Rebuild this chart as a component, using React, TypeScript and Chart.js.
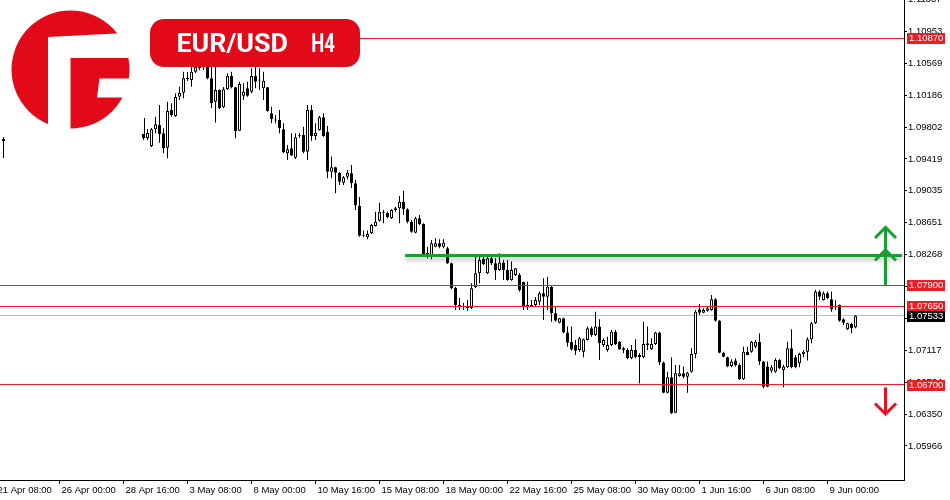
import React, { useEffect, useRef } from "react";
import { Chart, registerables } from "chart.js";

Chart.register(...registerables);

// ---- Instrument / title -------------------------------------------------
const SYMBOL = "EUR/USD";
const TIMEFRAME = "H4";

// ---- H4 candles: bar 0 = 21 Apr 16:00, one bar per 4 hours (weekends skipped).
// Bars 1..35 are hidden behind the logo in the reference.
const OPEN: (number | null)[] = [
  1.09659,
  null, null, null, null, null, null, null, null, null, null, null, null, null, null, null, null, null,
  null, null, null, null, null, null, null, null, null, null, null, null, null, null, null, null, null,
  1.09912, 1.09671, 1.09575, 1.09776, 1.09828, 1.09728, 1.09555, 1.10008, 1.09936, 1.10168,
  1.10216, 1.10381, 1.10369, 1.10469, 1.10513, 1.10585, 1.10529, 1.10389, 1.10108, 1.10248,
  1.10040, 1.10257, 1.10417, 1.10281, 1.09759, 1.10180, 1.10269, 1.10228, 1.10417, 1.10369,
  1.10269, 1.10281, 1.09968, 1.09888, 1.09888, 1.09776, 1.09487, 1.09547, 1.09434, 1.09691,
  1.09707, 1.09507, 1.10008, 1.09695, 1.09767, 1.09920, 1.09747, 1.09266, 1.09318, 1.09254,
  1.09134, 1.09206, 1.09246, 1.09126, 1.08853, 1.08496, 1.08477, 1.08525, 1.08613, 1.08677,
  1.08773, 1.08773, 1.08705, 1.08805, 1.08825, 1.08905, 1.08813, 1.08665, 1.08532, 1.08705,
  1.08637, 1.08292, 1.08244, 1.08364, 1.08404, 1.08364, 1.08344, 1.08164, 1.07867, 1.07662,
  1.07638, 1.07650, 1.07626, 1.07879, 1.08044, 1.08216, 1.08044, 1.08224, 1.08164, 1.08083,
  1.08172, 1.08083, 1.07963, 1.08023, 1.08023, 1.07939, 1.07650, 1.07662, 1.07662, 1.07702,
  1.07803, 1.07762, 1.07883, 1.07562, 1.07450, 1.07502, 1.07330, 1.07221, 1.07181, 1.07121,
  1.07101, 1.07241, 1.07382, 1.07301, 1.07402, 1.07181, 1.07121, 1.07181, 1.07341, 1.07221,
  1.07141, 1.07121, 1.07021, 1.07121, 1.07061, 1.07033, 1.07201, 1.07129, 1.07193, 1.07330,
  1.06969, 1.06608, 1.06793, 1.06367, 1.06809, 1.06841, 1.06800, 1.06860, 1.07073, 1.07611,
  1.07570, 1.07594, 1.07602, 1.07731, 1.07474, 1.07089, 1.07033, 1.06929, 1.06993, 1.06941,
  1.06768, 1.07101, 1.07101, 1.07161, 1.07221, 1.06981, 1.06921, 1.06872, 1.06860, 1.07001,
  1.06881, 1.06913, 1.07141, 1.07033, 1.06961, 1.07073, 1.07101, 1.07249, 1.07442, 1.07823,
  1.07723, 1.07803, 1.07731, 1.07638, 1.07662, 1.07490, 1.07370, 1.07434, 1.07394,
];

const HIGH: (number | null)[] = [
  1.09683,
  null, null, null, null, null, null, null, null, null, null, null, null, null, null, null, null, null,
  null, null, null, null, null, null, null, null, null, null, null, null, null, null, null, null, null,
  1.09928, 1.09779, 1.09791, 1.09928, 1.10068, 1.09787, 1.10108, 1.10088, 1.10208, 1.10288,
  1.10469, 1.10465, 1.10549, 1.10609, 1.10669, 1.10730, 1.10609, 1.10529, 1.10529, 1.10257,
  1.10284, 1.10449, 1.10469, 1.10288, 1.10348, 1.10329, 1.10348, 1.10509, 1.10529, 1.10509,
  1.10469, 1.10284, 1.10048, 1.09948, 1.10008, 1.09848, 1.09587, 1.09728, 1.09728, 1.09728,
  1.09807, 1.10068, 1.10068, 1.09848, 1.09936, 1.09968, 1.09816, 1.09447, 1.09326, 1.09262,
  1.09214, 1.09286, 1.09346, 1.09166, 1.08961, 1.08557, 1.08557, 1.08637, 1.08785, 1.08893,
  1.08805, 1.08785, 1.08813, 1.08845, 1.08973, 1.09037, 1.08825, 1.08685, 1.08725, 1.08745,
  1.08645, 1.08364, 1.08444, 1.08465, 1.08452, 1.08452, 1.08364, 1.08172, 1.07883, 1.07747,
  1.07687, 1.07723, 1.07923, 1.08264, 1.08264, 1.08276, 1.08264, 1.08276, 1.08224, 1.08284,
  1.08204, 1.08204, 1.08184, 1.08107, 1.08044, 1.07943, 1.07943, 1.07723, 1.07759, 1.07823,
  1.07983, 1.08003, 1.07891, 1.07642, 1.07506, 1.07510, 1.07402, 1.07402, 1.07241, 1.07281,
  1.07259, 1.07402, 1.07402, 1.07582, 1.07490, 1.07261, 1.07281, 1.07362, 1.07362, 1.07229,
  1.07161, 1.07141, 1.07181, 1.07249, 1.07081, 1.07462, 1.07402, 1.07261, 1.07341, 1.07341,
  1.06981, 1.06860, 1.07033, 1.06941, 1.06941, 1.06921, 1.06860, 1.07141, 1.07602, 1.07675,
  1.07622, 1.07642, 1.07783, 1.07743, 1.07482, 1.07101, 1.07041, 1.07009, 1.07021, 1.06961,
  1.07161, 1.07161, 1.07229, 1.07241, 1.07322, 1.06989, 1.06981, 1.06941, 1.07021, 1.07009,
  1.06941, 1.07221, 1.07370, 1.07061, 1.07089, 1.07121, 1.07274, 1.07462, 1.07843, 1.07843,
  1.07823, 1.07823, 1.07823, 1.07723, 1.07668, 1.07502, 1.07450, 1.07450, 1.07542,
];

const LOW: (number | null)[] = [
  1.09430,
  null, null, null, null, null, null, null, null, null, null, null, null, null, null, null, null, null,
  null, null, null, null, null, null, null, null, null, null, null, null, null, null, null, null, null,
  1.09647, 1.09647, 1.09563, 1.09728, 1.09615, 1.09487, 1.09427, 1.09928, 1.09924, 1.10128,
  1.10148, 1.10357, 1.10288, 1.10453, 1.10489, 1.10489, 1.10377, 1.10028, 1.09856, 1.10016,
  1.10028, 1.10248, 1.10269, 1.09667, 1.09755, 1.10128, 1.10168, 1.10208, 1.10269, 1.10248,
  1.10128, 1.09987, 1.09848, 1.09848, 1.09728, 1.09487, 1.09406, 1.09455, 1.09418, 1.09675,
  1.09487, 1.09406, 1.09639, 1.09647, 1.09759, 1.09687, 1.09186, 1.09186, 1.09006, 1.09106,
  1.09106, 1.09174, 1.09070, 1.08805, 1.08484, 1.08477, 1.08453, 1.08517, 1.08605, 1.08665,
  1.08645, 1.08705, 1.08697, 1.08785, 1.08645, 1.08745, 1.08645, 1.08532, 1.08525, 1.08625,
  1.08264, 1.08224, 1.08212, 1.08356, 1.08344, 1.08344, 1.08156, 1.07851, 1.07602, 1.07602,
  1.07602, 1.07590, 1.07614, 1.07867, 1.07923, 1.08144, 1.08035, 1.08144, 1.07963, 1.08075,
  1.07963, 1.07955, 1.07955, 1.08011, 1.07823, 1.07602, 1.07602, 1.07642, 1.07650, 1.07662,
  1.07482, 1.07602, 1.07462, 1.07462, 1.07442, 1.07322, 1.07161, 1.07115, 1.07061, 1.07101,
  1.07033, 1.07233, 1.07281, 1.07289, 1.07001, 1.07161, 1.07101, 1.07169, 1.07181, 1.07121,
  1.07081, 1.07009, 1.07009, 1.07021, 1.06721, 1.07021, 1.07121, 1.07121, 1.07181, 1.06941,
  1.06600, 1.06600, 1.06351, 1.06360, 1.06800, 1.06781, 1.06608, 1.06848, 1.07021, 1.07542,
  1.07562, 1.07582, 1.07594, 1.07462, 1.07081, 1.07033, 1.06913, 1.06913, 1.06921, 1.06760,
  1.06760, 1.07057, 1.07089, 1.07141, 1.06941, 1.06660, 1.06672, 1.06848, 1.06848, 1.06889,
  1.06672, 1.06905, 1.06901, 1.06901, 1.06913, 1.07033, 1.06993, 1.07202, 1.07434, 1.07723,
  1.07715, 1.07731, 1.07582, 1.07602, 1.07462, 1.07422, 1.07362, 1.07322, 1.07382,
];

const CLOSE: (number | null)[] = [
  1.09635,
  null, null, null, null, null, null, null, null, null, null, null, null, null, null, null, null, null,
  null, null, null, null, null, null, null, null, null, null, null, null, null, null, null, null, null,
  1.09671, 1.09731, 1.09776, 1.09836, 1.09719, 1.09547, 1.09996, 1.09948, 1.10164, 1.10216,
  1.10389, 1.10393, 1.10469, 1.10529, 1.10585, 1.10537, 1.10389, 1.10088, 1.10248, 1.10028,
  1.10257, 1.10417, 1.10281, 1.09755, 1.10321, 1.10228, 1.10180, 1.10417, 1.10348, 1.10363,
  1.10360, 1.09996, 1.09896, 1.09880, 1.09787, 1.09503, 1.09535, 1.09459, 1.09679, 1.09695,
  1.09507, 1.10008, 1.09695, 1.09735, 1.09920, 1.09695, 1.09266, 1.09318, 1.09254, 1.09146,
  1.09198, 1.09254, 1.09126, 1.08859, 1.08496, 1.08494, 1.08517, 1.08625, 1.08665, 1.08785,
  1.08775, 1.08717, 1.08805, 1.08825, 1.08905, 1.08813, 1.08665, 1.08544, 1.08705, 1.08637,
  1.08276, 1.08244, 1.08404, 1.08404, 1.08364, 1.08412, 1.08164, 1.07863, 1.07662, 1.07638,
  1.07650, 1.07626, 1.07863, 1.08044, 1.08204, 1.08156, 1.08224, 1.08164, 1.08083, 1.08172,
  1.08083, 1.07963, 1.08083, 1.08104, 1.07843, 1.07642, 1.07662, 1.07650, 1.07723, 1.07803,
  1.07762, 1.07883, 1.07562, 1.07474, 1.07502, 1.07330, 1.07209, 1.07127, 1.07113, 1.07261,
  1.07249, 1.07382, 1.07301, 1.07402, 1.07201, 1.07241, 1.07181, 1.07341, 1.07190, 1.07129,
  1.07121, 1.07021, 1.07121, 1.07033, 1.07033, 1.07193, 1.07181, 1.07193, 1.07330, 1.06969,
  1.06608, 1.06793, 1.06360, 1.06841, 1.06841, 1.06800, 1.06848, 1.07073, 1.07582, 1.07570,
  1.07602, 1.07622, 1.07731, 1.07474, 1.07089, 1.07041, 1.06921, 1.06981, 1.06941, 1.06768,
  1.07101, 1.07061, 1.07221, 1.07221, 1.06981, 1.06680, 1.06680, 1.06913, 1.07001, 1.06901,
  1.06921, 1.07141, 1.06913, 1.06913, 1.07073, 1.07101, 1.07249, 1.07442, 1.07823, 1.07762,
  1.07803, 1.07743, 1.07611, 1.07650, 1.07474, 1.07450, 1.07442, 1.07382, 1.07533,
];

// ---- Axes --------------------------------------------------------------
const TIME_TICK_BARS = [-2, 14, 30, 46, 62, 78, 94, 110, 126, 142, 158, 174, 190, 206];
const TIME_TICK_LABELS = [
  "21 Apr 08:00", "26 Apr 00:00", "28 Apr 16:00", "3 May 08:00", "8 May 00:00",
  "10 May 16:00", "15 May 08:00", "18 May 00:00", "22 May 16:00", "25 May 08:00",
  "30 May 00:00", "1 Jun 16:00", "6 Jun 08:00", "9 Jun 00:00",
];
const PRICE_TICKS = [
  1.05966, 1.0635, 1.06734, 1.07117, 1.07501, 1.07884, 1.08268, 1.08651,
  1.09035, 1.09419, 1.09802, 1.10186, 1.10569, 1.10953, 1.11337,
];
const PRICE_MIN = 1.05557;
const PRICE_MAX = 1.11331;
const BAR_MIN = -0.875;
const BAR_MAX = 225.125;

// ---- Drawn levels / annotations ---------------------------------------
const RED_LEVELS = [1.1087, 1.079, 1.0765, 1.067];
const BID_PRICE = 1.07533;
const GREEN_LEVEL = 1.08257;
const GREEN_FROM_BAR = 100.4;
const ARROW_BAR = 220.5;
const UP_ARROWS = [
  { from: 1.08288, to: 1.08595 },
  { from: 1.07891, to: 1.08324 },
];
const DOWN_ARROWS = [{ from: 1.0667, to: 1.06351 }];

const BRAND_RED = "#e20a19";
const LEVEL_RED = "#ee1c25";
const GREEN = "#1f9a35";
const AXIS_FONT = '"Liberation Sans", Arial, sans-serif';
const AXIS_SIZE = 9.5;

function drawArrow(ctx: CanvasRenderingContext2D, x: number, yFrom: number, yTo: number, color: string) {
  const dir = yTo < yFrom ? -1 : 1;
  ctx.save();
  ctx.strokeStyle = color;
  ctx.lineWidth = 3;
  ctx.lineCap = "butt";
  ctx.lineJoin = "miter";
  ctx.beginPath();
  ctx.moveTo(x, yFrom);
  ctx.lineTo(x, yTo - dir * 1.5);
  ctx.stroke();
  ctx.beginPath();
  ctx.moveTo(x - 10.5, yTo - dir * 10.5);
  ctx.lineTo(x, yTo);
  ctx.lineTo(x + 10.5, yTo - dir * 10.5);
  ctx.stroke();
  ctx.restore();
}

function fitText(ctx: CanvasRenderingContext2D, text: string, left: number, right: number, baseline: number) {
  const m = ctx.measureText(text);
  const ink = m.actualBoundingBoxLeft + m.actualBoundingBoxRight;
  const s = (right - left) / ink;
  ctx.save();
  ctx.translate(left, baseline);
  ctx.scale(s, 1);
  ctx.textAlign = "left";
  ctx.textBaseline = "alphabetic";
  ctx.fillText(text, m.actualBoundingBoxLeft, 0);
  ctx.restore();
}

const overlayPlugin = {
  id: "mtOverlay",
  beforeDatasetsDraw(chart: any) {
    const { ctx, chartArea: a, scales } = chart;
    const y = scales.y;
    ctx.save();
    const yb = Math.floor(y.getPixelForValue(BID_PRICE)) + 0.5;
    ctx.strokeStyle = "#c0c0c0";
    ctx.lineWidth = 1;
    ctx.beginPath();
    ctx.moveTo(a.left, yb);
    ctx.lineTo(a.right, yb);
    ctx.stroke();
    ctx.restore();
  },
  afterDatasetsDraw(chart: any) {
    const { ctx, chartArea: a, scales } = chart;
    const x = scales.x;
    const y = scales.y;
    ctx.save();
    ctx.strokeStyle = LEVEL_RED;
    ctx.lineWidth = 1;
    for (const lv of RED_LEVELS) {
      const py = Math.floor(y.getPixelForValue(lv)) + 0.5;
      ctx.beginPath();
      ctx.moveTo(a.left, py);
      ctx.lineTo(a.right, py);
      ctx.stroke();
    }
    // green level with soft shadow
    const gy = y.getPixelForValue(GREEN_LEVEL);
    const gx = x.getPixelForValue(GREEN_FROM_BAR);
    ctx.save();
    ctx.shadowColor = "rgba(0,0,0,0.3)";
    ctx.shadowBlur = 5;
    ctx.shadowOffsetY = 3;
    ctx.strokeStyle = GREEN;
    ctx.lineWidth = 3;
    ctx.beginPath();
    ctx.moveTo(gx, gy);
    ctx.lineTo(a.right - 2, gy);
    ctx.stroke();
    ctx.restore();
    // arrows
    const ax = Math.round(x.getPixelForValue(ARROW_BAR)) - 0.5;
    for (const ar of UP_ARROWS) {
      drawArrow(ctx, ax, y.getPixelForValue(ar.from), y.getPixelForValue(ar.to), "#1aa032");
    }
    for (const ar of DOWN_ARROWS) {
      drawArrow(ctx, ax, y.getPixelForValue(ar.from), y.getPixelForValue(ar.to), "#e8101e");
    }
    ctx.restore();
  },
  afterDraw(chart: any) {
    const { ctx, chartArea: a, scales } = chart;
    const y = scales.y;
    ctx.save();
    // logo background (white image backdrop)
    ctx.fillStyle = "#ffffff";
    ctx.fillRect(0, 0, 144, 134);
    ctx.fillRect(144, 0, 8, 100);
    // logo
    ctx.fillStyle = BRAND_RED;
    ctx.beginPath();
    ctx.arc(70.5, 69.5, 59, 0, Math.PI * 2);
    ctx.fill();
    ctx.fillStyle = "#ffffff";
    ctx.beginPath();
    ctx.moveTo(48, 37);
    ctx.lineTo(116, 33.5);
    ctx.lineTo(140, 33.5);
    ctx.lineTo(140, 58);
    ctx.lineTo(70.5, 58);
    ctx.lineTo(70.5, 140);
    ctx.lineTo(48, 140);
    ctx.closePath();
    ctx.fill();
    ctx.beginPath();
    ctx.moveTo(99.5, 78.5);
    ctx.lineTo(140, 78.5);
    ctx.lineTo(140, 97.5);
    ctx.lineTo(97, 97.5);
    ctx.closePath();
    ctx.fill();
    // title pill
    ctx.fillStyle = BRAND_RED;
    ctx.beginPath();
    ctx.roundRect(150, 19, 210, 48, 14);
    ctx.fill();
    ctx.fillStyle = "#ffffff";
    ctx.font = "bold 26px Roboto, 'Liberation Sans', sans-serif";
    fitText(ctx, SYMBOL, 177.5, 287, 52);
    fitText(ctx, TIMEFRAME, 312, 335, 52);
    // price boxes on the axis
    ctx.font = `${AXIS_SIZE}px ${AXIS_FONT}`;
    ctx.textBaseline = "middle";
    ctx.textAlign = "left";
    const boxes = [
      ...RED_LEVELS.map((v) => ({ v, bg: LEVEL_RED })),
      { v: BID_PRICE, bg: "#000000" },
    ];
    for (const b of boxes) {
      const py = Math.round(y.getPixelForValue(b.v));
      ctx.fillStyle = b.bg;
      ctx.fillRect(a.right + 3, py - 5, 38, 11);
      ctx.fillStyle = "#ffffff";
      ctx.fillText(b.v.toFixed(5), a.right + 5, py + 0.5);
    }
    ctx.restore();
  },
};

export default function App() {
  const ref = useRef<HTMLCanvasElement>(null);

  useEffect(() => {
    const canvas = ref.current;
    if (!canvas) return;
    const bars = OPEN.map((o, i) => ({ i, o, h: HIGH[i], l: LOW[i], c: CLOSE[i] })).filter(
      (b) => b.o != null && b.h != null && b.l != null && b.c != null
    ) as { i: number; o: number; h: number; l: number; c: number }[];

    const chart = new Chart(canvas, {
      type: "bar",
      data: {
        datasets: [
          {
            label: "wicks",
            data: bars.map((b) => ({ x: b.i, y: [b.l, b.h] })) as any,
            backgroundColor: "#000000",
            borderWidth: 0,
            barThickness: 1,
            grouped: false,
            inflateAmount: 0,
            order: 2,
          } as any,
          {
            label: "bodies",
            data: bars.map((b) => ({ x: b.i, y: [b.o, b.c] })) as any,
            backgroundColor: bars.map((b) => (b.c >= b.o ? "#ffffff" : "#000000")),
            borderColor: "#000000",
            borderWidth: 1,
            borderSkipped: false,
            barThickness: 3,
            minBarLength: 1,
            grouped: false,
            inflateAmount: 0,
            order: 1,
          } as any,
        ],
      },
      options: {
        responsive: false,
        animation: false,
        devicePixelRatio: 1,
        events: [],
        layout: { padding: 0 },
        plugins: {
          legend: { display: false },
          tooltip: { enabled: false },
          title: { display: false },
        },
        scales: {
          x: {
            type: "linear",
            min: BAR_MIN,
            max: BAR_MAX,
            offset: false,
            afterBuildTicks: (s: any) => {
              s.ticks = TIME_TICK_BARS.map((v) => ({ value: v }));
            },
            afterFit: (s: any) => {
              s.height = 20;
              s.paddingLeft = 0;
              s.paddingRight = 0;
            },
            grid: {
              offset: false,
              drawOnChartArea: false,
              drawTicks: true,
              tickLength: 4,
              color: "#000000",
              tickColor: "#000000",
            },
            border: { display: true, color: "#000000", width: 1 },
            ticks: {
              autoSkip: false,
              maxRotation: 0,
              minRotation: 0,
              align: "start",
              labelOffset: 2,
              padding: 1,
              color: "#000000",
              font: { family: AXIS_FONT, size: AXIS_SIZE },
              callback: (_v: any, idx: number) => TIME_TICK_LABELS[idx],
            },
          },
          y: {
            type: "linear",
            position: "right",
            min: PRICE_MIN,
            max: PRICE_MAX,
            beginAtZero: false,
            afterBuildTicks: (s: any) => {
              s.ticks = PRICE_TICKS.map((v) => ({ value: v }));
            },
            afterFit: (s: any) => {
              s.width = 46;
              s.paddingTop = 0;
              s.paddingBottom = 0;
            },
            grid: {
              drawOnChartArea: false,
              drawTicks: true,
              tickLength: 3,
              color: "#000000",
              tickColor: "#000000",
            },
            border: { display: true, color: "#000000", width: 1 },
            ticks: {
              padding: 1,
              color: "#000000",
              font: { family: AXIS_FONT, size: AXIS_SIZE },
              callback: (v: any) => Number(v).toFixed(5),
            },
          },
        },
      } as any,
      plugins: [overlayPlugin],
    });

    return () => chart.destroy();
  }, []);

  return (
    <div style={{ position: "absolute", left: 0, top: 0, width: 950, height: 500, background: "#ffffff" }}>
      <canvas ref={ref} width={950} height={500} style={{ display: "block", width: 950, height: 500 }} />
    </div>
  );
}
